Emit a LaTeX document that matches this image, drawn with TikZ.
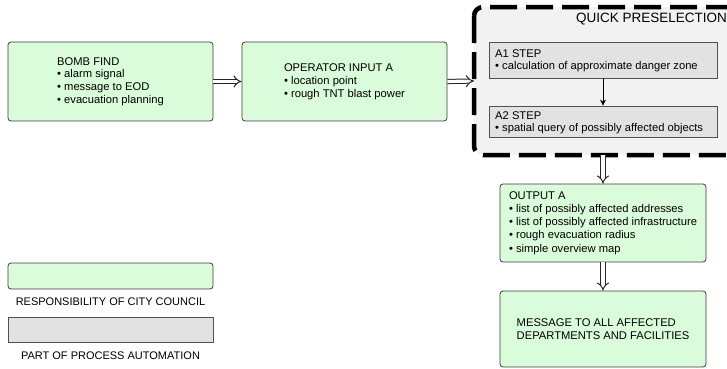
\documentclass[tikz,border=0pt]{standalone}
\usepackage{fontspec}
\setmainfont{Liberation Sans}
\usetikzlibrary{arrows.meta}
\definecolor{boxgreen}{RGB}{218,252,218}
\definecolor{boxgrey}{RGB}{226,226,226}
\definecolor{dashfill}{RGB}{242,242,242}
\definecolor{edge}{RGB}{60,60,60}
\tikzset{
  greenbox/.style={draw=edge, line width=0.8pt, fill=boxgreen, rounded corners=3pt, inner sep=0pt, align=left, font=\fontsize{11.2}{12.8}\selectfont},
  greybox/.style={draw=edge!90, line width=0.8pt, fill=boxgrey, inner sep=0pt},
  steptext/.style={anchor=north west, align=left, inner sep=0pt, font=\fontsize{11.2}{12.6}\selectfont},
  legendtext/.style={font=\fontsize{11}{12}\selectfont, inner sep=0pt},
  dbl/.style={double=white, double distance=3.2pt, line width=1pt, draw=black!85, -{Implies[scale=1.9]}},
  sgl/.style={line width=0.8pt, draw=black, -{Stealth[length=6pt,width=6pt]}},
}
\begin{document}
\begin{tikzpicture}[x=1pt,y=-1pt]
\useasboundingbox (0,0) rectangle (727,368);
% dashed group
\draw[line width=4.5pt, dash pattern=on 27pt off 9pt, rounded corners=9pt, fill=dashfill] (474,7) rectangle (790,155);
\coordinate (grpW) at (474,81);
\coordinate (grpS) at (603,155);
\node[anchor=west, inner sep=0pt, font=\fontsize{13.5}{15}\selectfont] (qp) at (576,19) {QUICK PRESELECTION};
% main boxes
\node[greenbox, minimum width=205pt, minimum height=79pt] (bomb) at (110.5,81.5)
  {BOMB FIND\\• alarm signal\\• message to EOD\\• evacuation planning};
\node[greenbox, minimum width=205pt, minimum height=79pt] (op) at (344.5,81.5)
  {OPERATOR INPUT A\\• location point\\• rough TNT blast power};
\node[greybox, minimum width=228pt, minimum height=36pt] (a1) at (603,60) {};
\node[steptext] (a1t) at (495,49) {A1 STEP\\• calculation of approximate danger zone};
\node[greybox, minimum width=228pt, minimum height=31pt] (a2) at (603,121.5) {};
\node[steptext] (a2t) at (495,111) {A2 STEP\\• spatial query of possibly affected objects};
\node[greenbox, minimum width=206pt, minimum height=78pt, font=\fontsize{11.2}{13.2}\selectfont] (outa) at (603,223)
  {OUTPUT A\\• list of possibly affected addresses\\• list of possibly affected infrastructure\\• rough evacuation radius\\• simple overview map};
\node[greenbox, minimum width=206pt, minimum height=76pt] (msg) at (603,329)
  {MESSAGE TO ALL AFFECTED\\DEPARTMENTS AND FACILITIES};
% legend
\node[greenbox, minimum width=205pt, minimum height=26pt] (lg) at (110.5,276) {};
\node[legendtext] (lgt) at (110.5,302) {RESPONSIBILITY OF CITY COUNCIL};
\node[greybox, minimum width=205pt, minimum height=25pt] (lp) at (110.5,329.5) {};
\node[legendtext] (lpt) at (110.5,356) {PART OF PROCESS AUTOMATION};
% connectors
\draw[dbl] (bomb.east) -- (op.west);
\draw[dbl] (op.east) -- (grpW);
\draw[sgl] (a1.south) -- (a2.north);
\draw[dbl] (grpS) -- (outa.north);
\draw[dbl] (outa.south) -- (msg.north);
\end{tikzpicture}
\end{document}
